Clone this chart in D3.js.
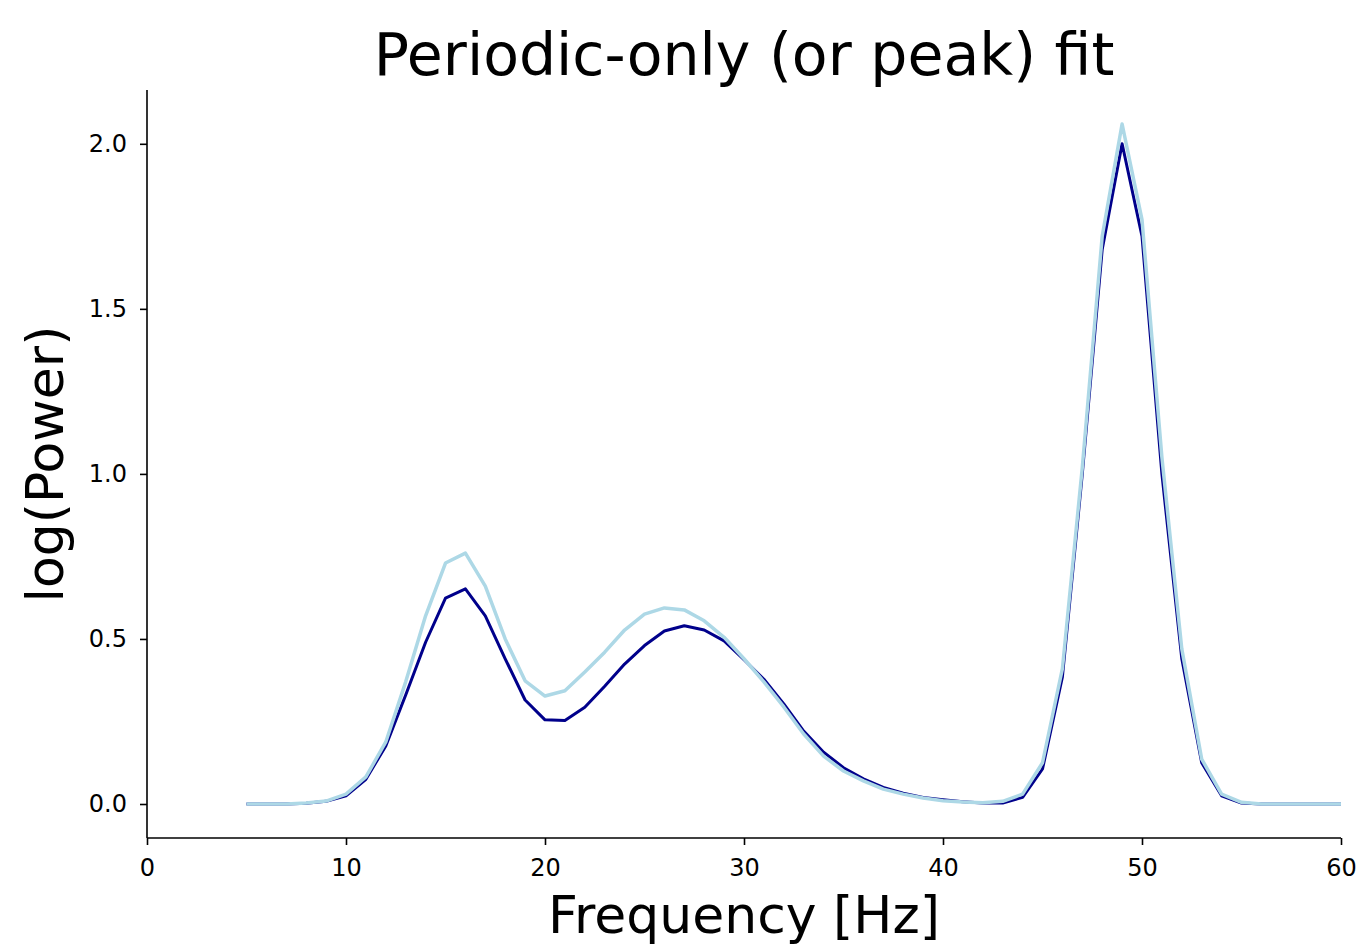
<!DOCTYPE html>
<html>
<head>
<meta charset="utf-8">
<script src="https://cdn.jsdelivr.net/npm/d3@7"></script>
<style>
  html, body { margin: 0; padding: 0; background: #fff; }
  svg { display: block; font-family: "DejaVu Sans", sans-serif; }
</style>
</head>
<body>
<svg id="chart" width="1366" height="948"></svg>
<script>
// Frequencies (Hz) at which the spectra are sampled
const freqs = [5,6,7,8,9,10,11,12,13,14,15,16,17,18,19,20,21,22,23,24,25,26,27,28,29,30,
  31,32,33,34,35,36,37,38,39,40,41,42,43,44,45,46,47,48,49,50,51,52,53,54,55,56,57,58,59,60];

// Flattened spectrum (aperiodic component removed), log power
const flatSpectrum = [0,0,0,0.003,0.009,0.03,0.082,0.188,0.37,0.57,0.73,0.76,0.66,0.50,0.373,0.327,0.343,
  0.40,0.46,0.527,0.575,0.594,0.588,0.555,0.505,0.44,0.37,0.294,0.212,0.145,0.10,0.07,0.045,0.03,0.018,0.01,
  0.006,0.004,0.008,0.03,0.125,0.41,1.02,1.72,2.06,1.77,1.05,0.47,0.136,0.03,0.005,0,0,0,0,0];

// Periodic (peak) model fit, log power
const peakFit = [0,0,0,0.002,0.008,0.025,0.075,0.176,0.33,0.49,0.624,0.652,0.57,0.44,0.315,0.255,0.253,
  0.293,0.357,0.424,0.48,0.524,0.54,0.527,0.494,0.437,0.378,0.303,0.221,0.157,0.11,0.076,0.05,0.033,0.02,0.013,
  0.007,0.003,0.003,0.02,0.106,0.385,1.0,1.68,2.0,1.72,1.0,0.44,0.125,0.025,0.003,0,0,0,0,0];

const xTicks = [0,10,20,30,40,50,60];
const yTicks = [0.0,0.5,1.0,1.5,2.0];

const svg = d3.select("#chart");
const margin = { left: 147, right: 1341, top: 90, bottom: 838 };

const x = d3.scaleLinear().domain([0, 60]).range([margin.left, margin.right]);
const yMin = -0.103, yMax = 2.163;
const y = d3.scaleLinear().domain([yMin, yMax]).range([margin.bottom, margin.top]);

// Axes
const xAxis = d3.axisBottom(x).tickValues(xTicks).tickFormat(d3.format("d")).tickSize(7).tickPadding(14);
const yAxis = d3.axisLeft(y).tickValues(yTicks).tickFormat(d3.format(".1f")).tickSize(7).tickPadding(13);

const gx = svg.append("g").attr("transform", `translate(0,${margin.bottom})`).call(xAxis);
const gy = svg.append("g").attr("transform", `translate(${margin.left},0)`).call(yAxis);

[gx, gy].forEach(g => {
  g.select(".domain").attr("stroke", "#000").attr("stroke-width", 1.6);
  g.selectAll(".tick line").attr("stroke", "#000").attr("stroke-width", 1.6);
  g.selectAll(".tick text").attr("fill", "#000").attr("font-size", 24)
    .attr("font-family", "DejaVu Sans, sans-serif");
});
// plain spines without end caps
gx.select(".domain").attr("d", `M${margin.left},0H${margin.right}`);
gy.select(".domain").attr("d", `M0,${margin.bottom}V${margin.top}`);

// Lines
const line = d3.line().x((d, i) => x(freqs[i])).y(d => y(d));

svg.append("path")
  .datum(peakFit)
  .attr("fill", "none")
  .attr("stroke", "#00008b")
  .attr("stroke-width", 3)
  .attr("stroke-linejoin", "round")
  .attr("d", line);

svg.append("path")
  .datum(flatSpectrum)
  .attr("fill", "none")
  .attr("stroke", "#add8e6")
  .attr("stroke-width", 3.5)
  .attr("stroke-linejoin", "round")
  .attr("d", line);

// Title and axis labels
svg.append("text")
  .attr("x", (margin.left + margin.right) / 2)
  .attr("y", 75)
  .attr("text-anchor", "middle")
  .attr("font-size", 58.5)
  .text("Periodic-only (or peak) fit");

svg.append("text")
  .attr("x", (margin.left + margin.right) / 2)
  .attr("y", 933)
  .attr("text-anchor", "middle")
  .attr("font-size", 52)
  .text("Frequency [Hz]");

svg.append("text")
  .attr("transform", `translate(63,${(margin.top + margin.bottom) / 2}) rotate(-90)`)
  .attr("text-anchor", "middle")
  .attr("font-size", 52)
  .text("log(Power)");
</script>
</body>
</html>
